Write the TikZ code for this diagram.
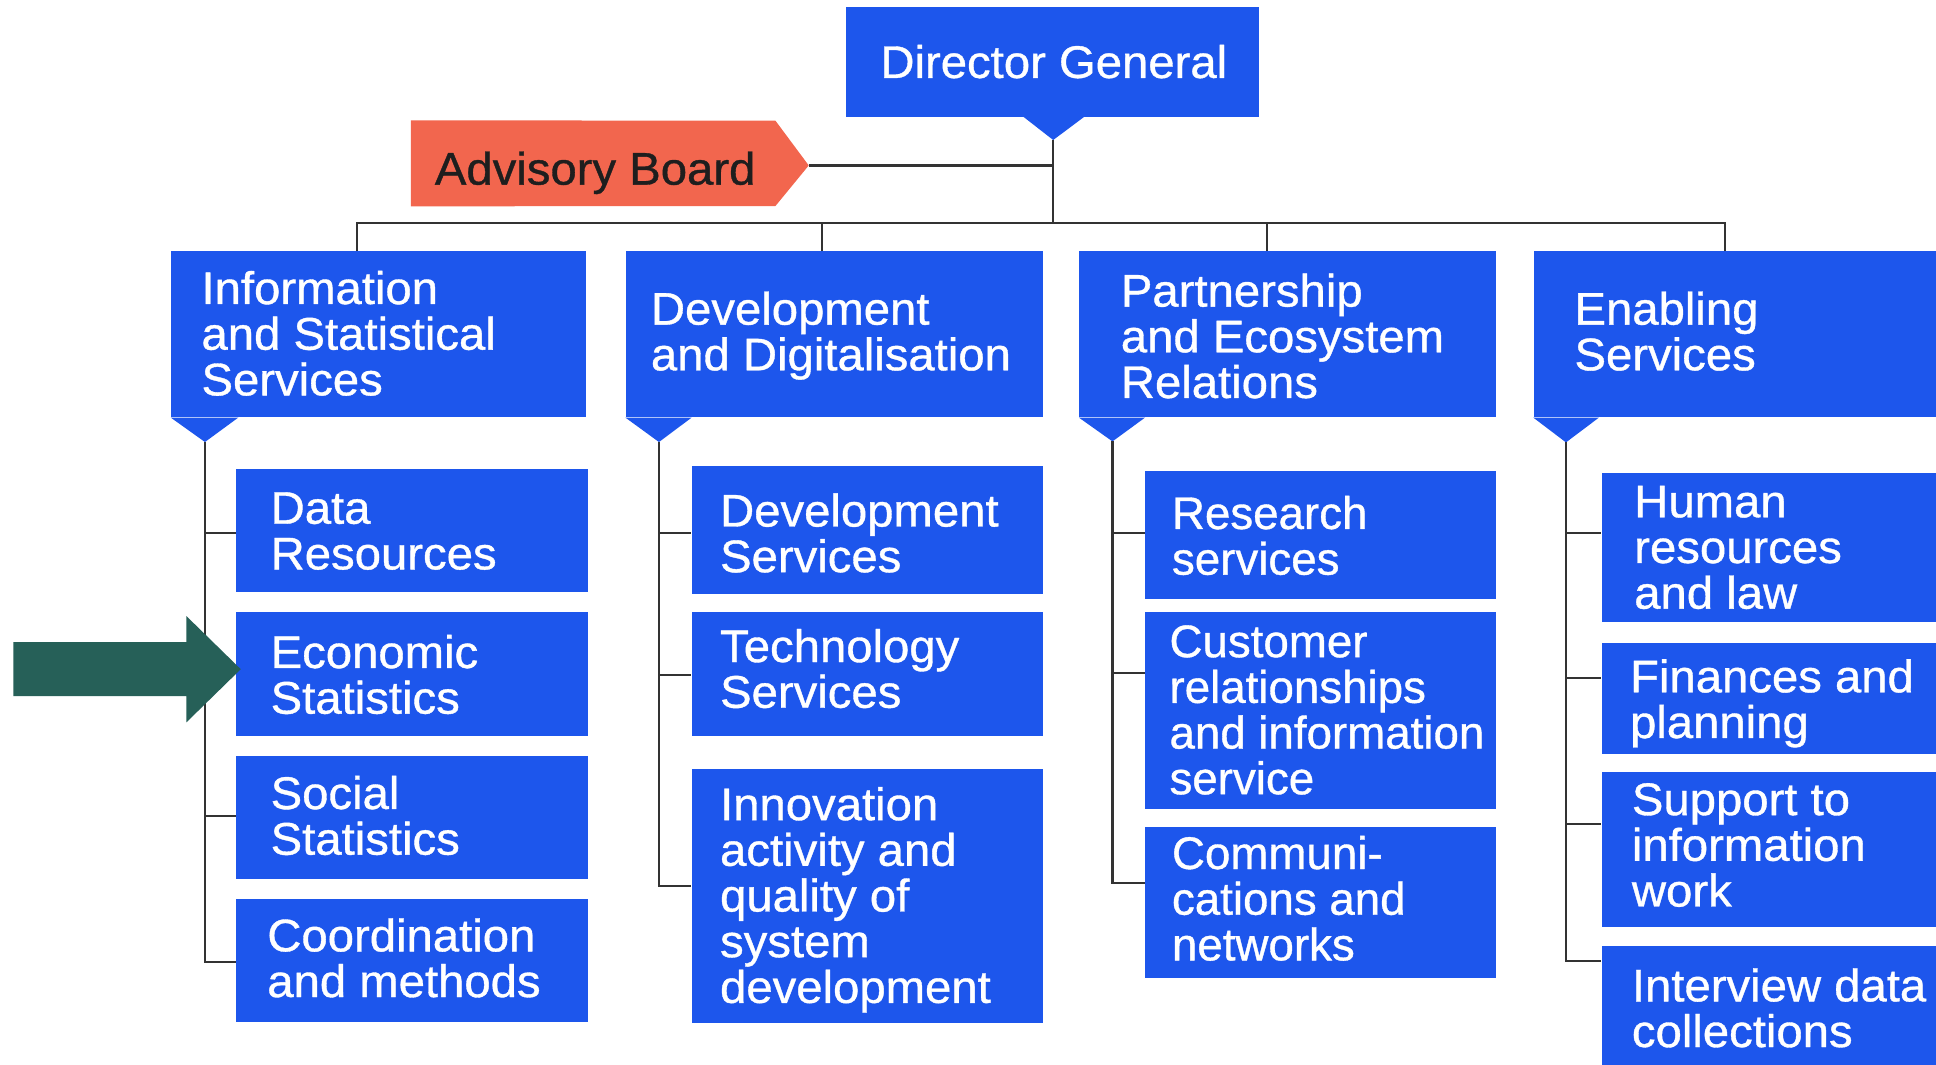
\documentclass[tikz,border=0pt]{standalone}
\usepackage{fontspec}
\setmainfont{Liberation Sans}[FakeStretch=1.035,FakeBold=0.8]
\newfontfamily\narrowfont{Liberation Sans}[FakeBold=0.8]
\usetikzlibrary{fit,calc}
\definecolor{orgblue}{HTML}{1D56EC}
\definecolor{advred}{HTML}{F2664E}
\definecolor{advtext}{HTML}{1E1E1E}
\definecolor{arrgreen}{HTML}{266058}
\definecolor{linegray}{HTML}{333333}
\tikzset{
  obx/.style={fill=orgblue, draw=none, inner sep=0pt},
  txt/.style={text=white, align=left, inner sep=0pt, anchor=north west,
              font=\fontsize{37}{37}\selectfont},
  ntxt/.style={txt, font=\narrowfont\fontsize{37}{37}\selectfont},
  conn/.style={draw=linegray, line width=1.7pt, line join=miter},
}
% box: name, x1, y1, x2, y2
\newcommand\obox[5]{\node[obx, fit={(#2,#3) (#4,#5)}] (#1) {};}
% text: name, x, first baseline, text
\newcommand\otext[4]{\node[txt] (#1) at (#2,{#3-26.5}) {#4};}
\newcommand\ntext[4]{\node[ntxt] (#1) at (#2,{#3-26.5}) {#4};}
% heading pointer: name, tip x, tip y, base right x
\newcommand\hptr[4]{\coordinate (#1tip) at (#2,#3);
  \fill[orgblue] (#1.south west) -- (#1tip) -- (#1.south west -| #4,0) -- cycle;}
\begin{document}
\begin{tikzpicture}[x=1pt,y=-1pt]
\useasboundingbox (0,0) rectangle (1568,862);
\fill[white] (0,0) rectangle (1568,862);
\clip (0,0) rectangle (1568,862);

% ---------- top level ----------
\obox{dg}{685}{6}{1020}{94.5}
\coordinate (dgtip) at (853,113.4);
\fill[orgblue] (dg.south -| 829,0) -- (dgtip) -- (dg.south -| 878,0) -- cycle;
\node[txt, anchor=north] (dgt) at (853.5,36.1) {Director General};

\coordinate (advtip) at (655,134);
\node[inner sep=0pt, fit={(333,97.7) (655,166.9)}] (adv) {};
\fill[advred] (adv.north west) -- (628,97.7) -- (advtip) -- (628,166.9) -- (adv.south west) -- cycle;
\node[txt, text=advtext] (advt) at (352,{149-26.5}) {Advisory Board};

% ---------- headings ----------
\obox{h1}{138.5}{203.5}{475}{338}
\obox{h2}{506.7}{203.5}{845}{338}
\obox{h3}{874}{203.5}{1212}{338}
\obox{h4}{1242}{203.5}{1600}{338}
\hptr{h1}{166}{358}{193}
\hptr{h2}{533.7}{358}{560.2}
\hptr{h3}{901}{357.5}{927.4}
\hptr{h4}{1268.3}{358.3}{1295}
\otext{h1t}{163}{245.7}{Information\\and Statistical\\Services}
\otext{h2t}{527}{262.4}{Development\\and Digitalisation}
\otext{h3t}{907.6}{247.8}{Partnership\\and Ecosystem\\Relations}
\otext{h4t}{1275}{262.4}{Enabling\\Services}

% ---------- column 1 ----------
\obox{d1}{191}{379.5}{476}{479.7}
\obox{d2}{191}{495.4}{476}{595.8}
\obox{d3}{191}{612}{476}{712}
\obox{d4}{191}{728}{476}{828}
\otext{d1t}{219}{425}{Data\\Resources}
\otext{d2t}{219}{540.5}{Economic\\Statistics}
\otext{d3t}{219}{654.7}{Social\\Statistics}
\otext{d4t}{216.3}{770}{Coordination\\and methods}

% ---------- column 2 ----------
\obox{e1}{560.2}{377.8}{845}{481}
\obox{e2}{560.2}{495.7}{845}{596}
\obox{e3}{560.2}{622.5}{845}{828.5}
\otext{e1t}{583}{425.9}{Development\\Services}
\otext{e2t}{583}{535.7}{Technology\\Services}
\otext{e3t}{583}{663.7}{Innovation\\activity and\\quality of\\system\\development}

% ---------- column 3 ----------
\obox{f1}{927.4}{381.5}{1212}{485.4}
\obox{f2}{927.4}{495.4}{1212}{655.5}
\obox{f3}{927.4}{669.8}{1212}{792.4}
\ntext{f1t}{949}{427.9}{Research\\services}
\ntext{f2t}{947}{532.7}{Customer\\relationships\\and information\\service}
\ntext{f3t}{949}{703.3}{Communi-\\cations and\\networks}

% ---------- column 4 ----------
\obox{g1}{1297.2}{383.4}{1600}{504}
\obox{g2}{1297.2}{521}{1600}{611}
\obox{g3}{1297.2}{625.5}{1600}{750.5}
\obox{g4}{1297.2}{766}{1600}{900}
\otext{g1t}{1323.4}{419.8}{Human\\resources\\and law}
\otext{g2t}{1320}{560.2}{Finances and\\planning}
\otext{g3t}{1321.5}{660.6}{Support to\\information\\work}
\otext{g4t}{1321.5}{810.5}{Interview data\\collections}

% ---------- connectors ----------
\coordinate (b1) at (289,180.3);
\coordinate (b2) at (666,180.3);
\coordinate (b3) at (1026.4,180.3);
\coordinate (b4) at (1397,180.3);
\draw[conn] (dgtip) -- (dgtip |- b1);
\draw[conn] (advtip) -- (advtip -| dgtip);
\draw[conn] (h1.north -| b1) -- (b1) -- (b4) -- (h4.north -| b4);
\draw[conn] (b2) -- (h2.north -| b2);
\draw[conn] (b3) -- (h3.north -| b3);

\draw[conn] (h1tip) -- (h1tip |- 0,779) -- (d4.west |- 0,779);
\foreach \n/\yy in {d1/432, d2/542, d3/661}
  \draw[conn] (h1tip |- 0,\yy) -- (\n.west |- 0,\yy);

\draw[conn] (h2tip) -- (h2tip |- 0,717.6) -- (e3.west |- 0,717.6);
\foreach \n/\yy in {e1/432, e2/547}
  \draw[conn] (h2tip |- 0,\yy) -- (\n.west |- 0,\yy);

\draw[conn] (h3tip) -- (h3tip |- 0,715.2) -- (f3.west |- 0,715.2);
\foreach \n/\yy in {f1/432, f2/545.3}
  \draw[conn] (h3tip |- 0,\yy) -- (\n.west |- 0,\yy);

\draw[conn] (h4tip) -- (h4tip |- 0,778) -- (g4.west |- 0,778);
\foreach \n/\yy in {g1/432, g2/548.9, g3/667.5}
  \draw[conn] (h4tip |- 0,\yy) -- (\n.west |- 0,\yy);

% ---------- pointer arrow ----------
\coordinate (arrtip) at (195,542);
\fill[arrgreen] (10.9,520) -- (151,520) -- (151,499) -- (arrtip)
  -- (151,585) -- (151,563.7) -- (10.9,563.7) -- cycle;
\end{tikzpicture}
\end{document}
